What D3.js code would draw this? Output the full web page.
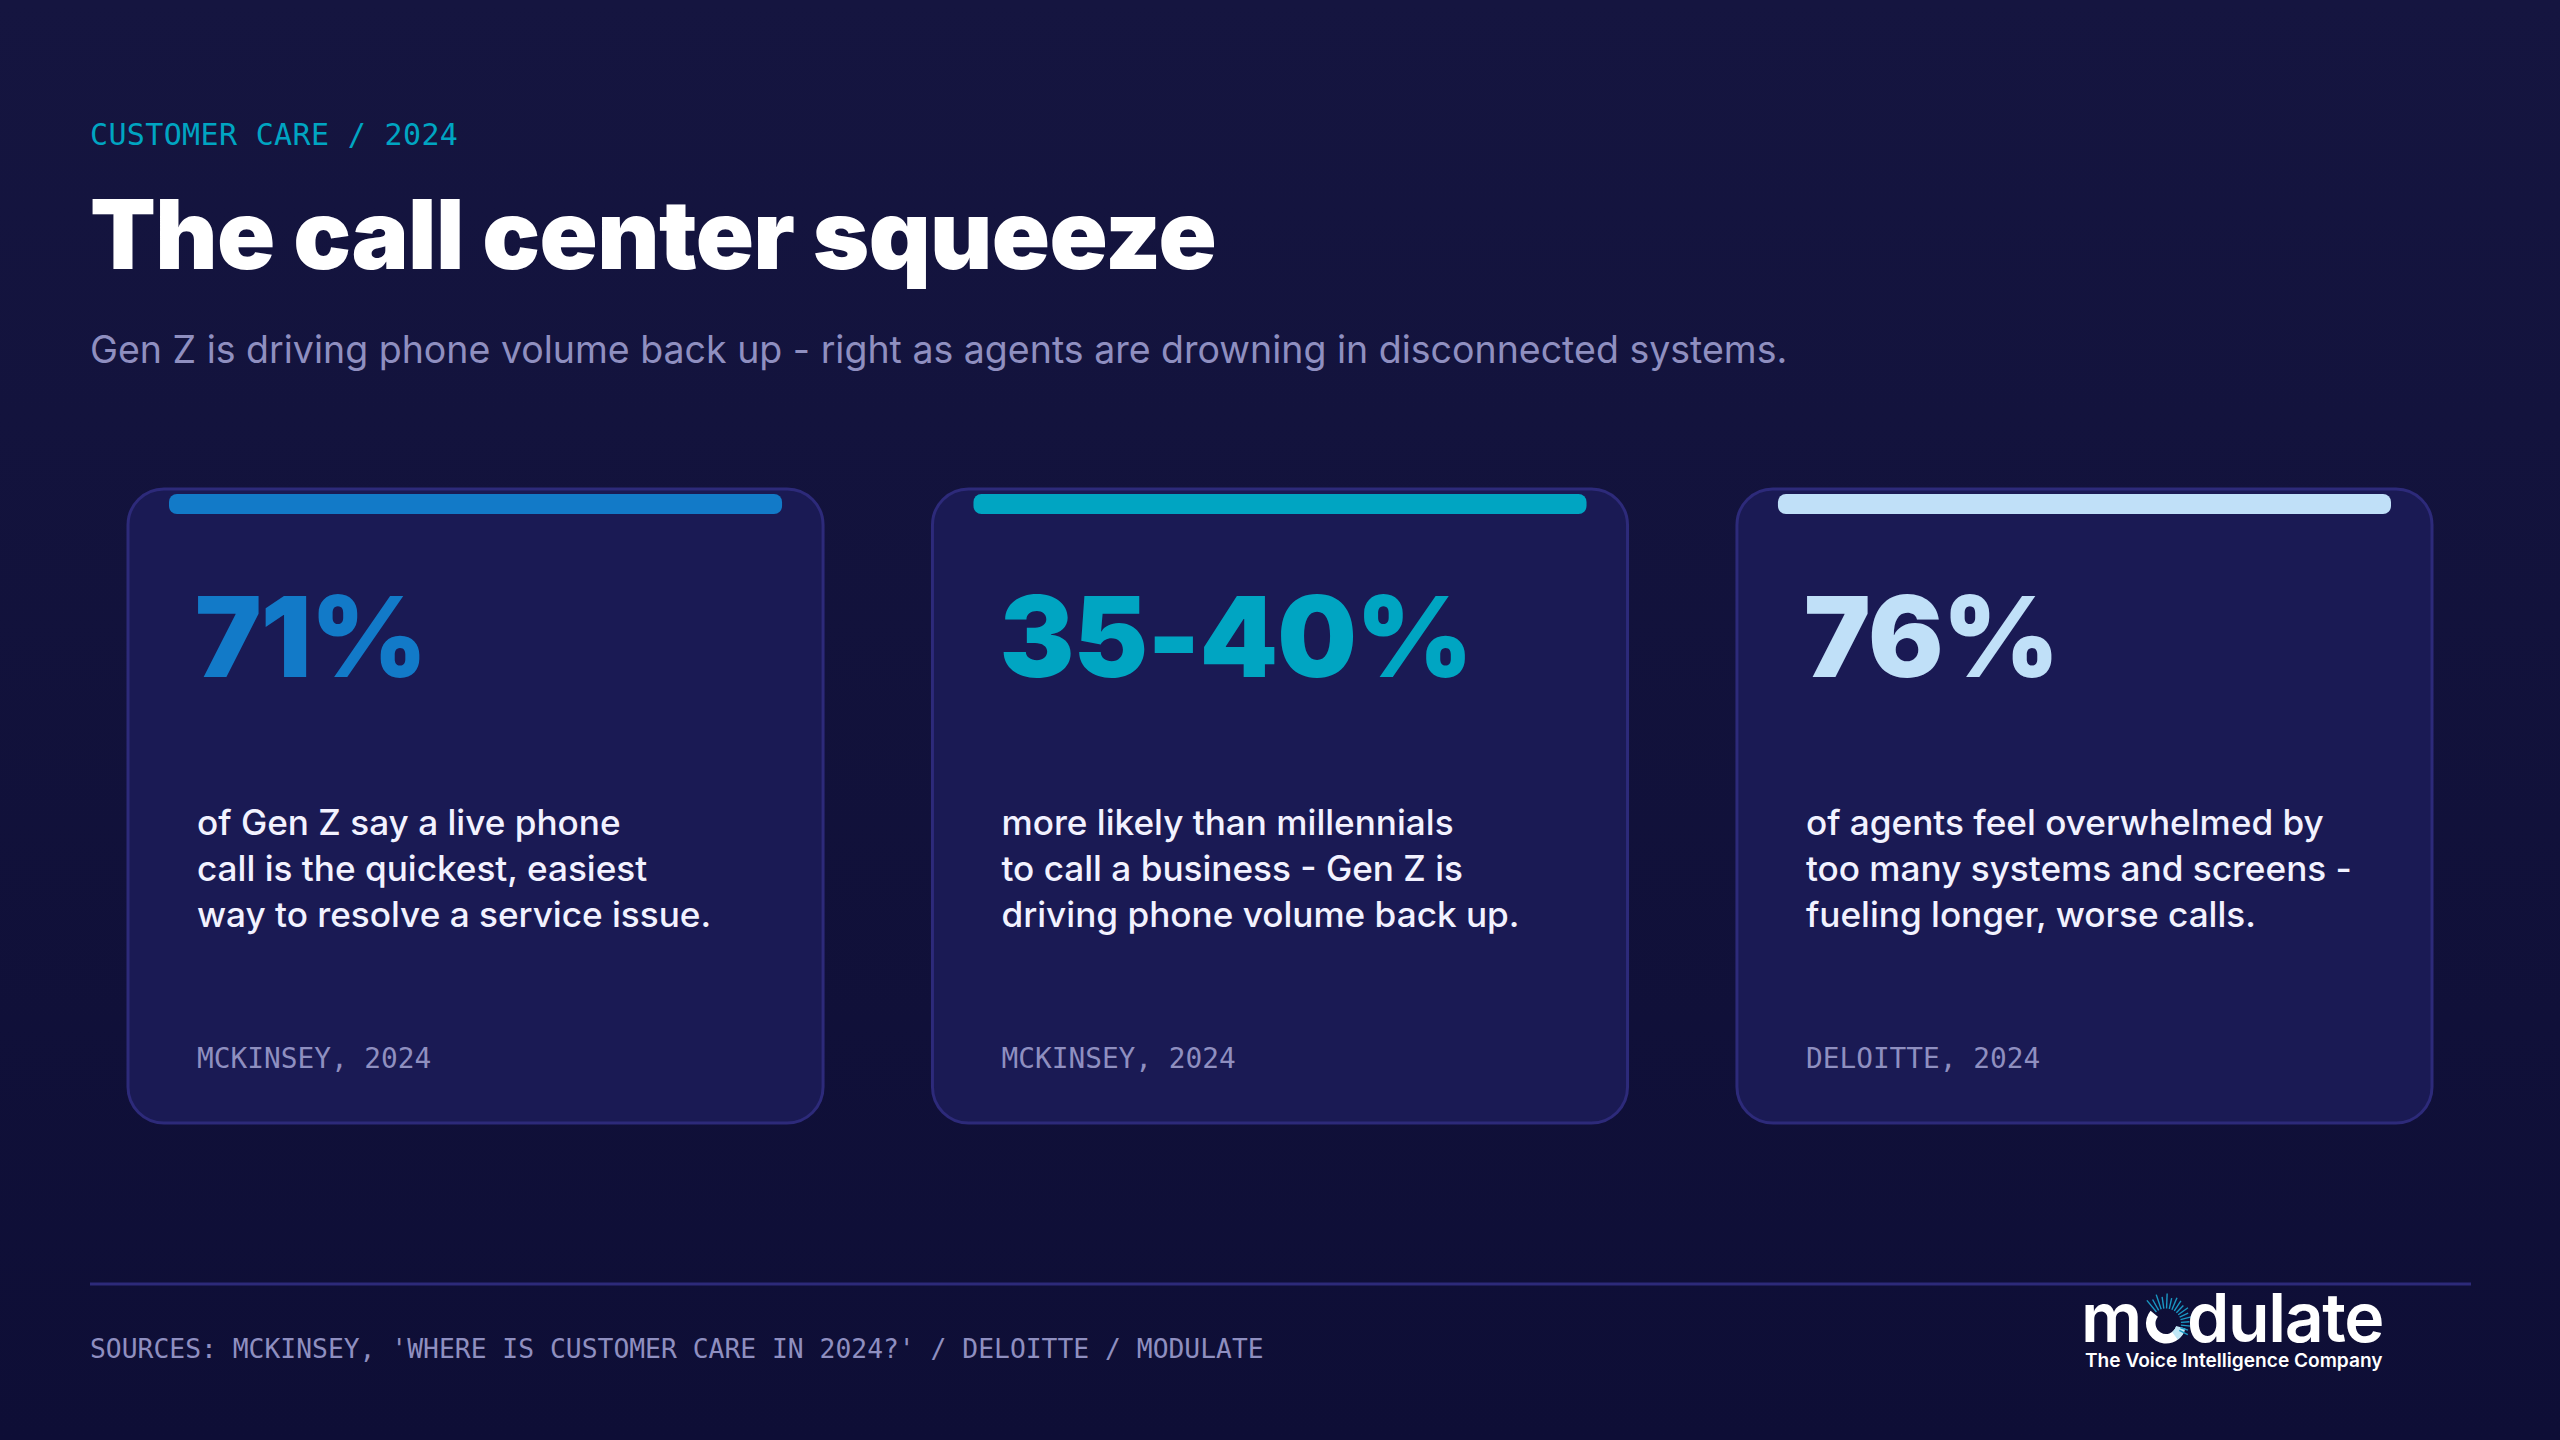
<!DOCTYPE html>
<html><head><meta charset="utf-8">
<script src="https://cdn.jsdelivr.net/npm/d3@7"></script>
<style>html,body{margin:0;padding:0;background:#0f0f37;overflow:hidden}svg{display:block}</style>
</head><body><div id="chart"></div>
<script>
const eyebrow = "CUSTOMER CARE / 2024";
const title = "The call center squeeze";
const subtitle = "Gen Z is driving phone volume back up - right as agents are drowning in disconnected systems.";
const categories = ["Gen Z live phone", "More likely to call", "Agents overwhelmed"];
const stats = ["71%", "35-40%", "76%"];
const descriptions = [
  ["of Gen Z say a live phone", "call is the quickest, easiest", "way to resolve a service issue."],
  ["more likely than millennials", "to call a business - Gen Z is", "driving phone volume back up."],
  ["of agents feel overwhelmed by", "too many systems and screens -", "fueling longer, worse calls."]
];
const sources = ["MCKINSEY, 2024", "MCKINSEY, 2024", "DELOITTE, 2024"];
const footer = "SOURCES: MCKINSEY, 'WHERE IS CUSTOMER CARE IN 2024?' / DELOITTE / MODULATE";
const rayLengths = [30,25,31,24,30,22,26,24,20,24,19,22,17,20,16,19];

const W = 2560, H = 1440;
const color = d3.scaleOrdinal().domain(categories).range(["#127ac8", "#00a5c2", "#c0e0f8"]);
const x = d3.scaleBand().domain(categories).range([128, 2432]).paddingInner(0.136);
const mono = "'DejaVu Sans Mono', monospace", sans = "Inter, sans-serif";

const svg = d3.select("#chart").append("svg").attr("width", W).attr("height", H).attr("viewBox", `0 0 ${W} ${H}`);
const defs = svg.append("defs");
const g = defs.append("linearGradient").attr("id","bg").attr("x1",0).attr("y1",0).attr("x2",0).attr("y2",1);
g.append("stop").attr("offset",0).attr("stop-color","#151540");
g.append("stop").attr("offset",1).attr("stop-color","#0e0e36");
svg.append("rect").attr("width",W).attr("height",H).attr("fill","url(#bg)");

const txt = (sel,t,px,py,size,weight,fill,font,ls) => sel.append("text").text(t).attr("x",px).attr("y",py)
  .attr("font-size",size).attr("font-weight",weight).attr("fill",fill).attr("font-family",font).attr("letter-spacing",ls||0);

txt(svg,eyebrow,90,145,30,400,"#00a5c2",mono,0.35);
txt(svg,title,90,269,96,900,"#ffffff",sans,-0.6);
txt(svg,subtitle,90,363,37.5,400,"#8f8fc0",sans,0);

const cards = svg.selectAll("g.card").data(categories).join("g").attr("class","card")
  .attr("transform", d => `translate(${x(d)},489)`);
cards.append("rect").attr("x",0).attr("y",0).attr("width",x.bandwidth()).attr("height",634).attr("rx",36)
  .attr("fill","#1a1a54").attr("stroke","#2d2a7a").attr("stroke-width",3);
cards.append("rect").attr("x",41).attr("y",5).attr("width",x.bandwidth()-82).attr("height",20).attr("rx",8)
  .attr("fill",d=>color(d));
cards.append("text").text((d,i)=>stats[i]).attr("x",67).attr("y",188).attr("font-size",112).attr("font-weight",900)
  .attr("letter-spacing",-0.9).attr("font-family",sans).attr("fill",d=>color(d));
cards.each(function(d,i){
  const c = d3.select(this);
  descriptions[i].forEach((l,j)=> txt(c,l,69,346+j*46,35.15,500,"#f2f2ff",sans,0));
  txt(c,sources[i],69,579,27.8,400,"#8f8fc0",mono,0);
});

svg.append("line").attr("x1",90).attr("x2",2471).attr("y1",1284).attr("y2",1284).attr("stroke","#2d2a7a").attr("stroke-width",3);
txt(svg,footer,90,1358,26.35,400,"#8f8fc0",mono,0);

// logo
const logo = svg.append("g");
txt(logo,"m",2081,1342,68,600,"#ffffff",sans,0);
const ox = 2166, oy = 1323.5;
const arc = d3.arc().innerRadius(10.5).outerRadius(20);
logo.append("path").attr("transform",`translate(${ox},${oy})`)
  .attr("d",arc({startAngle:Math.PI*0.62,endAngle:Math.PI*1.72})).attr("fill","#ffffff");
logo.append("path").attr("transform",`translate(${ox},${oy})`)
  .attr("d",arc({startAngle:Math.PI*0.58,endAngle:Math.PI*0.8})).attr("fill","#bfe6f5");
const ang = d3.scaleLinear().domain([0,rayLengths.length-1]).range([-Math.PI*0.22,Math.PI*0.65]);
logo.selectAll("line.ray").data(rayLengths).join("line").attr("class","ray")
  .attr("x1",(d,i)=>ox+15*Math.sin(ang(i))).attr("y1",(d,i)=>oy-15*Math.cos(ang(i)))
  .attr("x2",(d,i)=>ox+(15+d*0.5)*Math.sin(ang(i))).attr("y2",(d,i)=>oy-(15+d*0.5)*Math.cos(ang(i)))
  .attr("stroke","#1a98c4").attr("stroke-width",1.4);
txt(logo,"dulate",2187,1342,68,600,"#ffffff",sans,-1.4);
txt(logo,"The Voice Intelligence Company",2085,1367,19.1,600,"#ffffff",sans,0);
</script></body></html>
